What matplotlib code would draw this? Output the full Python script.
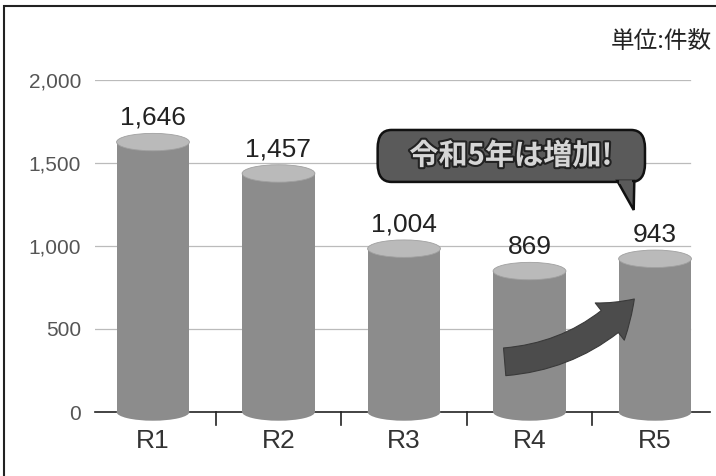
import matplotlib
matplotlib.use("Agg")
import matplotlib.pyplot as plt
from matplotlib.patches import Rectangle, Ellipse, FancyArrowPatch, FancyBboxPatch, Polygon
import matplotlib.patheffects as pe

categories = ["R1", "R2", "R3", "R4", "R5"]
values = [1646, 1457, 1004, 869, 943]
yticks = [0, 500, 1000, 1500, 2000]
ytick_labels = ["0", "500", "1,000", "1,500", "2,000"]
unit_label = "単位:件数"
callout_text = "令和5年は増加!"

num_font = ["Liberation Sans", "DejaVu Sans"]
jp_font = ["Noto Sans CJK JP", "DejaVu Sans"]

fig = plt.figure(figsize=(7.16, 4.76), dpi=100)
fig.patch.set_facecolor("white")
ax = fig.add_axes([95/716, 64/476, 615/716, 332/476])
ax.set_xlim(-0.462, 4.438)
ax.set_ylim(0, 2000)
for s in ["top", "right", "left"]:
    ax.spines[s].set_visible(False)
ax.spines["bottom"].set_color("#222222")
ax.spines["bottom"].set_linewidth(1.2)
ax.spines["bottom"].set_zorder(1)
ax.set_yticks(yticks)
ax.set_yticklabels(ytick_labels, fontfamily=num_font, fontsize=15, color="#555555")
ax.tick_params(axis="y", length=0, pad=10)
ax.set_xticks(range(len(categories)))
ax.set_xticklabels(categories, fontfamily=num_font, fontsize=19, color="#333333")
ax.tick_params(axis="x", length=0, pad=12)
# separator ticks between categories
for i in range(len(categories) - 1):
    ax.plot([i + 0.5, i + 0.5], [0, -80], color="#222222", lw=1.2, clip_on=False)

# gridlines
for t in yticks[1:]:
    ax.plot([-0.462, 4.28], [t, t], color="#bbbbbb", lw=0.9, zorder=0)

w = 0.58
eh = 105
for i, v in enumerate(values):
    ax.add_patch(Ellipse((i, 0), w, eh, facecolor="#8c8c8c", edgecolor="none", zorder=2, clip_on=False))
    ax.add_patch(Rectangle((i - w/2, 0), w, v - 20, facecolor="#8c8c8c", edgecolor="none", zorder=2))
    ax.add_patch(Ellipse((i, v - 20), w, eh, facecolor="#bababa", edgecolor="#a0a0a0", lw=0.6, zorder=3, clip_on=False))
    ax.annotate(f"{v:,}", (i, v), xytext=(0, 10), textcoords="offset points",
                ha="center", va="baseline", fontsize=19, fontfamily=num_font,
                color="#222222", clip_on=False)

# curved arrow R4 -> R5
arr = FancyArrowPatch((2.78, 301), (3.85, 693), connectionstyle="arc3,rad=0.2",
                      arrowstyle="simple,head_length=24,head_width=34,tail_width=20",
                      mutation_scale=1, facecolor="#4c4c4c", edgecolor="#3a3a3a", lw=0.8, zorder=5)
ax.add_patch(arr)

# callout bubble
box = FancyBboxPatch((1.79, 1386), 2.13, 313, boxstyle="round,pad=0,rounding_size=0.11",
                     mutation_aspect=1000, facecolor="#5a5a5a", edgecolor="#111111", lw=1.8,
                     zorder=6, clip_on=False)
ax.add_patch(box)
tail = Polygon([(3.70, 1392), (3.835, 1392), (3.83, 1217)], closed=True,
               facecolor="#5a5a5a", edgecolor="#111111", lw=1.8, zorder=6, clip_on=False)
ax.add_patch(tail)
ax.plot([3.715, 3.82], [1388, 1388], color="#5a5a5a", lw=2.6, zorder=7, clip_on=False,
        solid_capstyle="butt")
ax.text(2.85, 1545, callout_text, ha="center", va="center", fontsize=21,
        fontfamily=jp_font, fontweight="bold", color="#d6d6d6", zorder=8,
        path_effects=[pe.withStroke(linewidth=3, foreground="#222222")])

fig.text(712/716, 1 - 42/476, unit_label, ha="right", va="center", fontsize=17,
         fontfamily=jp_font, color="#222222")

# frame border
fig.add_artist(Rectangle((4/716, -0.02), 1.0, 1 - 6/476 + 0.02, transform=fig.transFigure,
                         fill=False, edgecolor="#222222", lw=1.5))

fig.savefig("out.png", dpi=100)
